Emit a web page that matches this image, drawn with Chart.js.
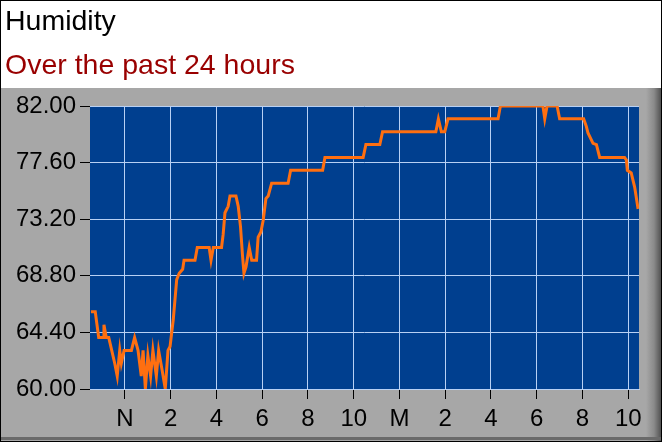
<!DOCTYPE html>
<html>
<head>
<meta charset="utf-8">
<script src="https://cdn.jsdelivr.net/npm/chart.js@4.4.0/dist/chart.umd.min.js"></script>
<style>
  html, body { margin: 0; padding: 0; background: #fff; }
  #wrap { width: 662px; height: 442px; }
</style>
</head>
<body>
<div id="wrap"><canvas id="humChart" width="662" height="442"></canvas></div>
<script>
// hours after noon (negative = morning before noon) and humidity readings
const hours = [-1.49, -1.30, -1.15, -0.96, -0.92, -0.82, -0.71, -0.45, -0.34, -0.23, -0.16, -0.04,
  0.28, 0.42, 0.57, 0.71, 0.79, 0.89, 1.00, 1.12, 1.22, 1.37, 1.47, 1.62, 1.76, 1.88, 1.97,
  2.11, 2.26, 2.37, 2.52, 2.58, 3.06, 3.16, 3.68, 3.76, 3.86, 4.22, 4.29, 4.37, 4.51, 4.59,
  4.85, 4.95, 5.05, 5.14, 5.20, 5.29, 5.43, 5.54, 5.75, 5.82, 5.94, 6.04, 6.16, 6.26, 6.41,
  7.13, 7.24, 8.64, 8.74, 10.41, 10.53, 11.14, 11.26, 13.59, 13.70, 13.83, 13.98, 14.12,
  16.31, 16.41, 18.27, 18.35, 18.45, 18.89, 19.00, 20.05, 20.17, 20.24, 20.46, 20.61, 20.75,
  21.84, 21.92, 21.96, 22.13, 22.28, 22.43]
const humidity = [66, 66, 64, 64, 65, 64, 64, 62, 61, 63, 62, 63,
  63, 64, 63, 61, 63, 60, 62.6, 61, 63, 61, 63, 61.5, 60, 63, 63.3,
  65.4, 68.5, 69, 69.3, 70, 70, 71, 71, 70, 71, 71, 72, 73.7, 74.2, 75,
  75, 74.2, 72.6, 70.3, 69, 69.5, 71, 70, 70, 71.8, 72.2, 73.1, 74.8, 75, 76,
  76, 77, 77, 78, 78, 79, 79, 80, 80, 81, 80, 80, 81,
  81, 82, 82, 81, 82, 82, 81, 81, 80.4, 79.9, 79.1, 79, 78,
  78, 77.8, 77, 76.8, 75.7, 74]
const xTicks = [0, 2, 4, 6, 8, 10, 12, 14, 16, 18, 20, 22]
const xLabels = ['N', '2', '4', '6', '8', '10', 'M', '2', '4', '6', '8', '10']
const yTicks = [60, 64.4, 68.8, 73.2, 77.6, 82]

let points = []
for (i = 0; i < hours.length; i++) {
    points.push({x: hours[i], y: humidity[i]})
}

// gray frame, blue plot background, outer border
const frame = {
    id: 'frame',
    beforeDraw: (chart) => {
        const c = chart.ctx
        const a = chart.chartArea
        c.save()
        c.fillStyle = '#ffffff'
        c.fillRect(0, 0, 662, 442)
        c.fillStyle = '#a7a7a7'
        c.fillRect(0, 88, 662, 354)
        let g = c.createLinearGradient(646, 0, 662, 0)
        g.addColorStop(0, '#a7a7a7')
        g.addColorStop(0.5, '#8a8a8a')
        g.addColorStop(1, '#4a4a4a')
        c.fillStyle = g
        c.fillRect(646, 88, 16, 354)
        c.fillStyle = '#6a6a6a'
        c.fillRect(0, 437, 662, 3)
        c.fillStyle = '#003f8f'
        c.fillRect(a.left, a.top, a.right - a.left, a.bottom - a.top)
        c.restore()
    },
    afterDraw: (chart) => {
        const c = chart.ctx
        c.save()
        c.strokeStyle = '#000'
        c.lineWidth = 1
        c.strokeRect(0.5, 0.5, 661, 441)
        c.restore()
    }
}

new Chart(document.getElementById('humChart'), {
    type: 'line',
    data: {
        datasets: [{
            data: points,
            borderColor: '#ff6f10',
            borderWidth: 3,
            pointRadius: 0,
            tension: 0,
            fill: false
        }]
    },
    options: {
        responsive: false,
        animation: false,
        devicePixelRatio: 1,
        layout: { padding: { left: 5, right: 23, top: 0, bottom: 0 } },
        plugins: {
            legend: { display: false },
            tooltip: { enabled: false },
            title: {
                display: true,
                text: 'Humidity',
                align: 'start',
                color: '#000',
                font: { family: 'Liberation Sans', size: 28.5, weight: 'normal' },
                padding: { top: 4.6, bottom: 6 }
            },
            subtitle: {
                display: true,
                text: 'Over the past 24 hours',
                align: 'start',
                color: '#990000',
                font: { family: 'Liberation Sans', size: 28.5, weight: 'normal' },
                padding: { top: 4.1, bottom: 22.9 }
            }
        },
        scales: {
            x: {
                type: 'linear',
                min: -1.53,
                max: 22.47,
                afterBuildTicks: (scale) => { scale.ticks = xTicks.map(v => ({value: v})) },
                afterFit: (scale) => { scale.height = 53 },
                ticks: {
                    autoSkip: false,
                    maxRotation: 0,
                    padding: 6,
                    color: '#000',
                    font: { family: 'Liberation Sans', size: 24 },
                    callback: (v) => xLabels[xTicks.indexOf(v)]
                },
                grid: { color: '#b8d0f4', tickColor: '#000', tickLength: 10, lineWidth: 1 },
                border: { color: '#b8d0f4' }
            },
            y: {
                min: 60,
                max: 82,
                afterBuildTicks: (scale) => { scale.ticks = yTicks.map(v => ({value: v})) },
                afterFit: (scale) => { scale.width = 85 },
                ticks: {
                    padding: 4,
                    color: '#000',
                    font: { family: 'Liberation Sans', size: 24 },
                    callback: (v) => v.toFixed(2)
                },
                grid: { color: '#b8d0f4', tickColor: '#000', tickLength: 10, lineWidth: 1 },
                border: { display: false }
            }
        }
    },
    plugins: [frame]
})
</script>
</body>
</html>
